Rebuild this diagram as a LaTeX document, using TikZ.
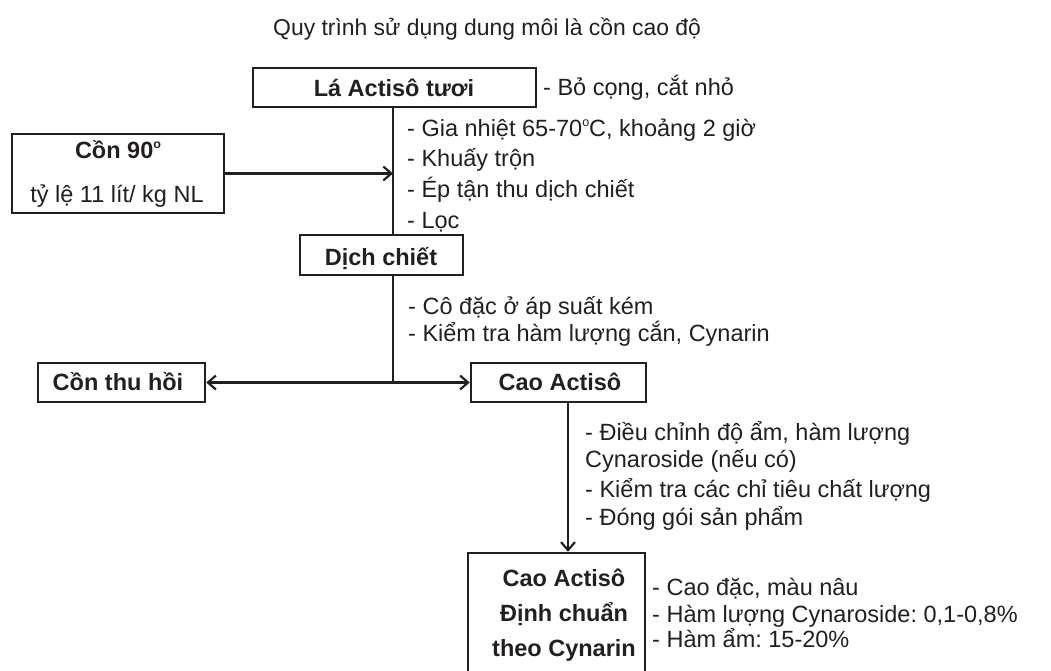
\documentclass[tikz,border=0pt]{standalone}
\usepackage{fontspec}
\setmainfont{Liberation Sans}
\usetikzlibrary{arrows.meta}
\definecolor{ink}{HTML}{231F20}
\newcommand{\dego}{\raisebox{0.42em}{\fontsize{12.5}{12.5}\selectfont o}}
\frenchspacing
\begin{document}
\begin{tikzpicture}[x=1pt,y=-1pt,
  frame/.style={draw=ink,line width=2.5pt,inner sep=0pt},
  txt/.style={text=ink,inner sep=0pt,anchor=base,font=\fontsize{23.5}{28}\selectfont},
  head/.style={txt,font=\bfseries\fontsize{23.5}{28}\selectfont},
  note/.style={txt,anchor=base west},
  link/.style={draw=ink,line width=2.2pt},
  arr/.style={link,-{Straight Barb[length=8pt,width=14pt]}}
]
\useasboundingbox (0,0) rectangle (1051,670);

% title
\node[note,font=\fontsize{22.9}{27}\selectfont] (title) at (273,35) {Quy trình sử dụng dung môi là cồn cao độ};

% fresh leaves
\node[frame,minimum width=283pt,minimum height=39pt] (la) at (394.5,87.5) {};
\node[head] (laT) at (394,96.5) {Lá Actisô tươi};
\node[note] (laN) at (543,95) {- Bỏ cọng, cắt nhỏ};

% solvent
\node[frame,minimum width=212pt,minimum height=79pt] (con) at (118,173.5) {};
\node[head] (conT) at (118,158) {Cồn 90\dego};
\node[txt] (conR) at (117,202) {tỷ lệ 11 lít/ kg NL};

\coordinate (spine) at (393,0);
\node[note] (s1) at (407,136) {- Gia nhiệt 65-70\dego C, khoảng 2 giờ};
\node[note] (s2) at (407,166.5) {- Khuấy trộn};
\node[note] (s3) at (407,197) {- Ép tận thu dịch chiết};
\node[note] (s4) at (407,228) {- Lọc};

% extract
\node[frame,minimum width=163pt,minimum height=40pt] (dc) at (381.5,255) {};
\node[head] (dcT) at (381,265) {Dịch chiết};

\node[note] (c1) at (408,314) {- Cô đặc ở áp suất kém};
\node[note] (c2) at (408,341) {- Kiểm tra hàm lượng cắn, Cynarin};

% split
\node[frame,minimum width=167pt,minimum height=39pt] (thu) at (121.5,382.5) {};
\node[head] (thuT) at (118,390) {Cồn thu hồi};
\node[frame,minimum width=175pt,minimum height=39pt] (cao) at (558.5,382.5) {};
\node[head] (caoT) at (560,390) {Cao Actisô};
\coordinate (junction) at (spine |- cao.west);

\node[note] (e1) at (585,440) {- Điều chỉnh độ ẩm, hàm lượng};
\node[note] (e2) at (585,467) {Cynaroside (nếu có)};
\node[note] (e3) at (585,497) {- Kiểm tra các chỉ tiêu chất lượng};
\node[note] (e4) at (585,525) {- Đóng gói sản phẩm};

% standardised product
\coordinate (drop) at (568,0);
\node[frame,minimum width=177pt,minimum height=127pt] (std) at (556.5,616.5) {};
\node[head] (std1) at (564,586) {Cao Actisô};
\node[head] (std2) at (564,621) {Định chuẩn};
\node[head] (std3) at (564,656) {theo Cynarin};

\node[note] (f1) at (652,595) {- Cao đặc, màu nâu};
\node[note] (f2) at (652,622) {- Hàm lượng Cynaroside: 0,1-0,8\%};
\node[note] (f3) at (652,647) {- Hàm ẩm: 15-20\%};

% connectors
\draw[link] (la.south -| spine) -- (dc.north -| spine);
\draw[arr] (con.east) -- (con.east -| spine);
\draw[link] (dc.south -| spine) -- (junction);
\draw[arr] (junction) -- (thu.east);
\draw[arr] (junction) -- (cao.west);
\draw[arr] (cao.south -| drop) -- (std.north -| drop);
\end{tikzpicture}
\end{document}
